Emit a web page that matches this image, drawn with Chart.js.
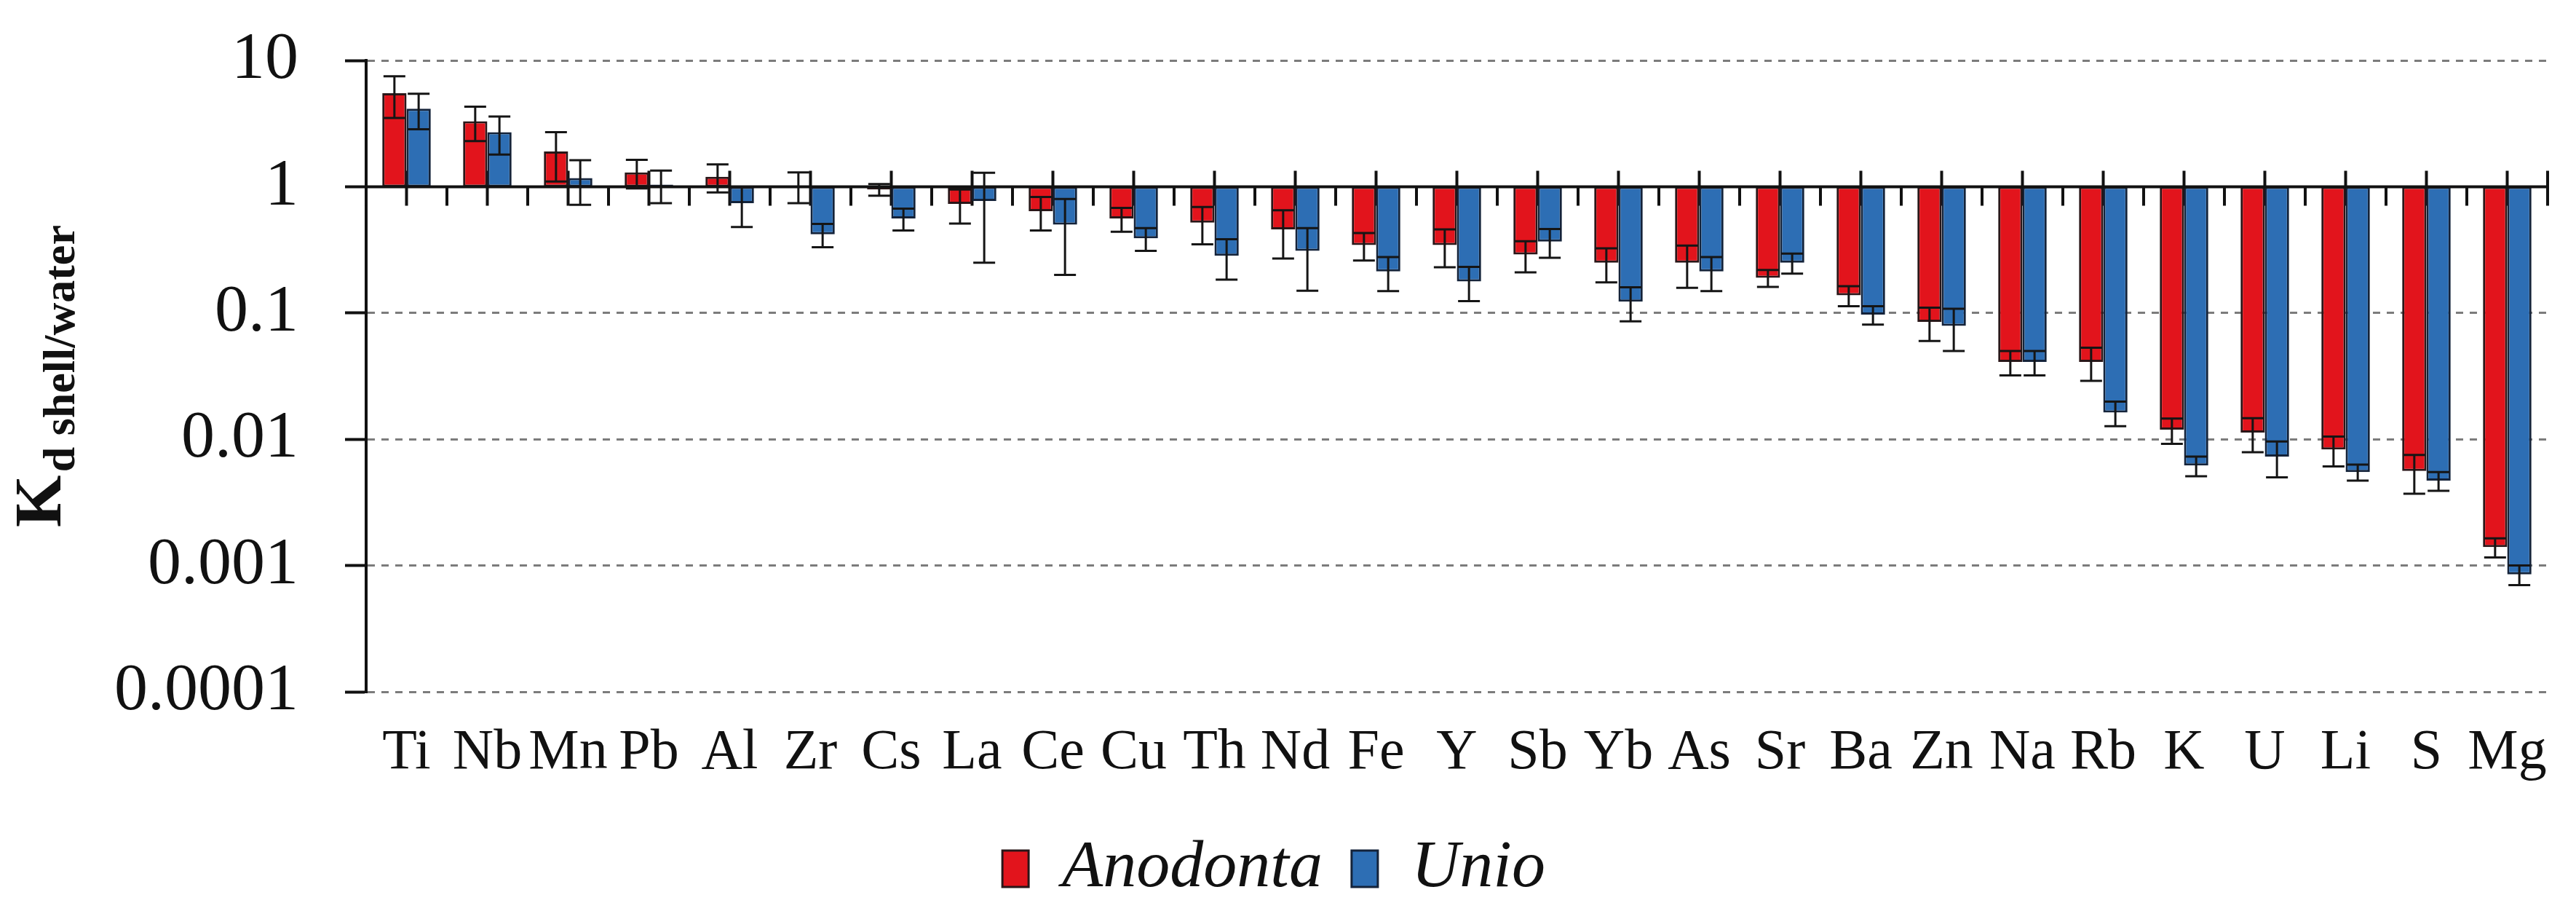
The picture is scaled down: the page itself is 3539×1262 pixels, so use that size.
<!DOCTYPE html>
<html lang="en">
<head>
    <meta charset="UTF-8">
    <title>Kd shell/water</title>
    <script src="https://cdn.jsdelivr.net/npm/chart.js@4"></script>
    <style>
        html, body { margin: 0; padding: 0; background: #fff; }
    </style>
</head>
<body>
    <canvas id="kdChart" width="3539" height="1262"></canvas>

    <script>
        // elements, in the order of the figure
        const elements = ['Ti', 'Nb', 'Mn', 'Pb', 'Al', 'Zr', 'Cs', 'La', 'Ce', 'Cu', 'Th', 'Nd', 'Fe', 'Y',
                          'Sb', 'Yb', 'As', 'Sr', 'Ba', 'Zn', 'Na', 'Rb', 'K', 'U', 'Li', 'S', 'Mg'];

        // Kd shell/water, mean and SD
        const anodonta   = [5.5, 3.3, 1.9, 1.3, 1.2, 1.02, 0.95, 0.73, 0.64, 0.56, 0.52, 0.46, 0.345, 0.345,
                            0.29, 0.25, 0.25, 0.19, 0.138, 0.085, 0.041, 0.041, 0.0119, 0.0113, 0.0083, 0.0056, 0.0014];
        const anodontaSd = [2.0, 1.0, 0.8, 0.33, 0.3, 0.28, 0.1, 0.22, 0.19, 0.12, 0.17, 0.19, 0.085, 0.115,
                            0.08, 0.075, 0.092, 0.029, 0.025, 0.025, 0.009, 0.012, 0.0027, 0.0034, 0.0022, 0.0019, 0.00024];
        const unio       = [4.15, 2.7, 1.17, 1.04, 0.74, 0.42, 0.56, 0.77, 0.5, 0.39, 0.284, 0.31, 0.213, 0.178,
                            0.368, 0.123, 0.213, 0.25, 0.097, 0.079, 0.041, 0.0163, 0.0062, 0.0073, 0.0055, 0.0047, 0.00085];
        const unioSd     = [1.3, 0.9, 0.45, 0.3, 0.26, 0.088, 0.11, 0.52, 0.3, 0.08, 0.1, 0.16, 0.064, 0.054,
                            0.094, 0.037, 0.064, 0.045, 0.016, 0.029, 0.009, 0.0036, 0.0011, 0.0023, 0.0008, 0.0008, 0.00015];

        const yTicks = [10, 1, 0.1, 0.01, 0.001, 0.0001];

        const serif = '"Liberation Serif", "Times New Roman", serif';

        // bars hang from Kd = 1
        const fromOne = arr => arr.map(v => [1, v]);

        // category axis drawn along Kd = 1, with cross ticks at the centres
        const axisAtOne = {
            id: 'axisAtOne',
            beforeDatasetsDraw(chart) {
                const { ctx, scales: { x, y } } = chart;
                const y1 = y.getPixelForValue(1);
                ctx.save();
                ctx.strokeStyle = '#111';
                ctx.lineWidth = 4;
                ctx.beginPath();
                elements.forEach((_, i) => {
                    const cx = x.getPixelForValue(i);
                    ctx.moveTo(cx, y1 - 22);
                    ctx.lineTo(cx, y1 + 26);
                });
                ctx.stroke();
                ctx.restore();
            },
            afterDatasetsDraw(chart) {
                const { ctx, chartArea, scales: { x, y } } = chart;
                const y1 = y.getPixelForValue(1);
                ctx.save();
                ctx.strokeStyle = '#111';
                ctx.lineWidth = 4;
                ctx.beginPath();
                ctx.moveTo(chartArea.left, y1);
                ctx.lineTo(chartArea.right, y1);
                for (let i = 0; i <= elements.length; i++) {
                    const bx = x.getPixelForValue(i - 0.5);
                    const up = i === elements.length ? 22 : 0;
                    ctx.moveTo(bx, y1 - up);
                    ctx.lineTo(bx, y1 + 26);
                }
                ctx.stroke();
                ctx.restore();
            }
        };

        // +/- SD whiskers
        const errorBars = {
            id: 'errorBars',
            afterDatasetsDraw(chart) {
                const { ctx, scales: { y } } = chart;
                ctx.save();
                ctx.strokeStyle = '#151515';
                ctx.lineWidth = 3;
                chart.data.datasets.forEach((ds, d) => {
                    const meta = chart.getDatasetMeta(d);
                    meta.data.forEach((bar, i) => {
                        const v = ds.data[i][1];
                        const sd = ds.errors[i];
                        const yHi = y.getPixelForValue(v + sd);
                        const yLo = y.getPixelForValue(v - sd);
                        const cap = 15;
                        ctx.beginPath();
                        ctx.moveTo(bar.x, yHi);
                        ctx.lineTo(bar.x, yLo);
                        ctx.moveTo(bar.x - cap, yHi);
                        ctx.lineTo(bar.x + cap, yHi);
                        ctx.moveTo(bar.x - cap, yLo);
                        ctx.lineTo(bar.x + cap, yLo);
                        ctx.stroke();
                    });
                });
                ctx.restore();
            }
        };

        // y title: K with subscript "d shell/water"
        const yTitle = {
            id: 'yTitle',
            afterDraw(chart) {
                const { ctx, chartArea } = chart;
                const cy = (chartArea.top + chartArea.bottom) / 2;
                const main = 'K', sub = 'd shell/water';
                ctx.save();
                ctx.fillStyle = '#111';
                ctx.font = 'bold 92px ' + serif;
                const wMain = ctx.measureText(main).width;
                ctx.font = 'bold 62px ' + serif;
                const wSub = ctx.measureText(sub).width;
                const total = wMain + 4 + wSub;
                ctx.translate(83, cy);
                ctx.rotate(-Math.PI / 2);
                ctx.textBaseline = 'alphabetic';
                ctx.textAlign = 'left';
                ctx.font = 'bold 92px ' + serif;
                ctx.fillText(main, -total / 2, 0);
                ctx.font = 'bold 62px ' + serif;
                ctx.fillText(sub, -total / 2 + wMain + 4, 19);
                ctx.restore();
            }
        };

        const ctx = document.getElementById('kdChart').getContext('2d');

        const kdChart = new Chart(ctx, {
            type: 'bar',
            data: {
                labels: elements,
                datasets: [{
                    label: 'Anodonta',
                    data: fromOne(anodonta),
                    errors: anodontaSd,
                    backgroundColor: '#e2141c',
                    borderColor: '#2a1618',
                    borderWidth: 3,
                    borderSkipped: false
                }, {
                    label: 'Unio',
                    data: fromOne(unio),
                    errors: unioSd,
                    backgroundColor: '#2d6eb4',
                    borderColor: '#14233a',
                    borderWidth: 3,
                    borderSkipped: false
                }]
            },
            options: {
                responsive: false,
                animation: false,
                devicePixelRatio: 1,
                categoryPercentage: 0.6,
                barPercentage: 1.0,
                layout: { padding: { left: 0, right: 39, top: 83, bottom: 13 } },
                plugins: {
                    tooltip: { enabled: false },
                    legend: {
                        position: 'bottom',
                        labels: {
                            color: '#111',
                            font: { family: serif, size: 92, style: 'italic' },
                            boxWidth: 36,
                            boxHeight: 50,
                            padding: 40
                        }
                    }
                },
                scales: {
                    x: {
                        grid: { display: false },
                        border: { display: false },
                        ticks: {
                            color: '#111',
                            font: { family: serif, size: 78 },
                            autoSkip: false,
                            maxRotation: 0,
                            padding: 30
                        },
                        afterFit(scale) { scale.height = 157; }
                    },
                    y: {
                        type: 'logarithmic',
                        min: 0.0001,
                        max: 10,
                        afterBuildTicks(scale) {
                            scale.ticks = yTicks.map(v => ({ value: v }));
                        },
                        afterFit(scale) {
                            scale.width = 503;
                            scale.paddingTop = 0;
                            scale.paddingBottom = 0;
                        },
                        grid: {
                            color: '#7c7c7c',
                            lineWidth: 3,
                            tickLength: 29,
                            tickColor: '#111',
                            tickWidth: 4,
                            tickBorderDash: []
                        },
                        border: { display: true, color: '#111', width: 4, dash: [10, 9] },
                        ticks: {
                            color: '#111',
                            font: { family: serif, size: 92 },
                            padding: 64,
                            callback: v => String(v)
                        }
                    }
                }
            },
            plugins: [axisAtOne, errorBars, yTitle]
        });
    </script>
</body>
</html>
